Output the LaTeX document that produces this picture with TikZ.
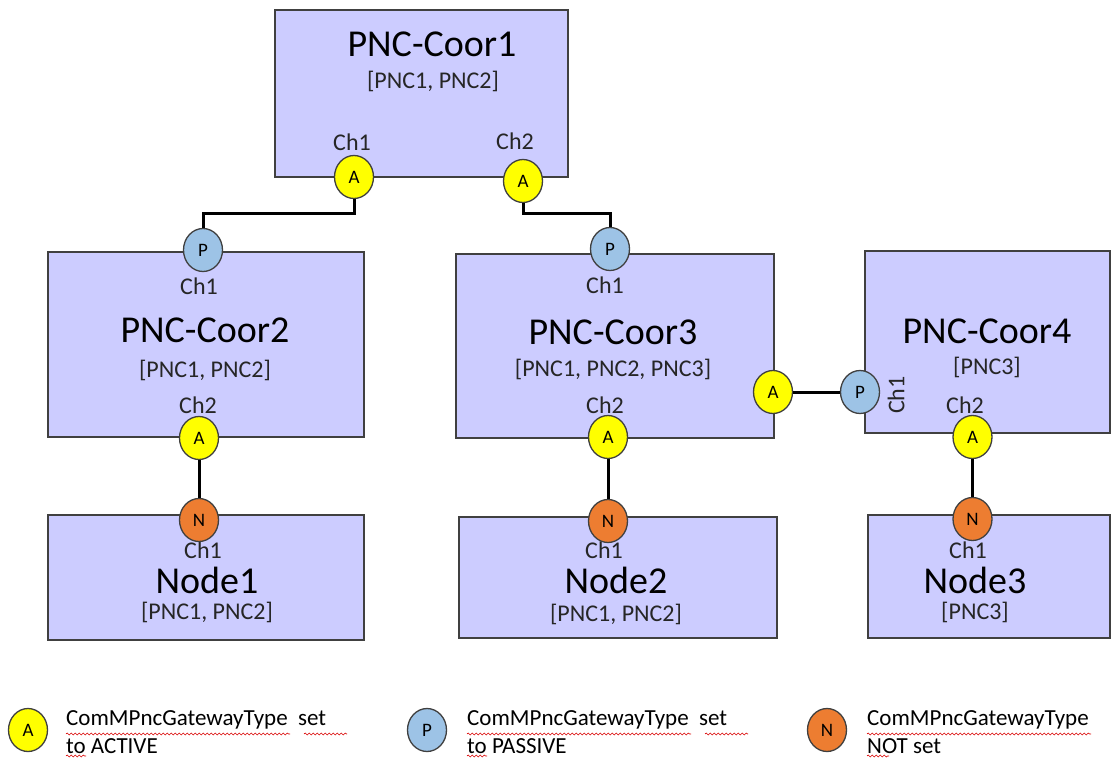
\documentclass[tikz,border=0pt]{standalone}
\usepackage{fontspec}
\setmainfont{Carlito}
\usetikzlibrary{shapes.geometric,decorations.pathmorphing}
\definecolor{boxfill}{RGB}{204,204,255}
\definecolor{boxline}{RGB}{64,64,64}
\definecolor{actA}{RGB}{255,255,0}
\definecolor{pasP}{RGB}{157,195,230}
\definecolor{notN}{RGB}{237,125,49}
\definecolor{subtext}{RGB}{38,38,38}
\begin{document}
\begin{tikzpicture}[x=1pt,y=-1pt,
  box/.style={draw=boxline, fill=boxfill, line width=1.8pt, rectangle, inner sep=0pt},
  port/.style={ellipse, draw=boxline, line width=1.3pt, minimum width=39pt, minimum height=43pt, inner sep=0pt, font=\fontsize{19}{19}\selectfont},
  portA/.style={port, fill=actA},
  portP/.style={port, fill=pasP},
  portN/.style={port, fill=notN},
  ttl/.style={font=\fontsize{38}{38}\selectfont, inner sep=0pt},
  sub/.style={font=\fontsize{24}{24}\selectfont, text=subtext, inner sep=0pt},
  link/.style={line width=3pt, black},
  legtxt/.style={font=\fontsize{23}{28}\selectfont, align=left, anchor=west, inner sep=0pt},
  squig/.style={draw=red!85!black, line width=0.6pt, decorate, decoration={snake, segment length=4pt, amplitude=1pt}}
]
\useasboundingbox (0,0) rectangle (1113,758);

% boxes
\node[box, minimum width=293, minimum height=167] (c1) at (421.5,93.5) {};
\node[box, minimum width=316, minimum height=185] (c2) at (206,344.5) {};
\node[box, minimum width=318, minimum height=184] (c3) at (615,346) {};
\node[box, minimum width=245, minimum height=182] (c4) at (987.5,342) {};
\node[box, minimum width=316, minimum height=125] (n1box) at (206,577.5) {};
\node[box, minimum width=318, minimum height=121] (n2box) at (618,577.5) {};
\node[box, minimum width=242, minimum height=123] (n3box) at (989,576.5) {};

% texts
\node[ttl] (t1) at (432,44) {PNC-Coor1};
\node[sub] (s1) at (433,81) {[PNC1, PNC2]};
\node[sub] (l11) at (352,142) {Ch1};
\node[sub] (l12) at (515,141) {Ch2};

\node[sub] (l21) at (199,286) {Ch1};
\node[ttl] (t2) at (205,330) {PNC-Coor2};
\node[sub] (s2) at (205,370) {[PNC1, PNC2]};
\node[sub] (l22) at (198,405) {Ch2};

\node[sub] (l31) at (605,285) {Ch1};
\node[ttl] (t3) at (613,332) {PNC-Coor3};
\node[sub] (s3) at (613,369) {[PNC1, PNC2, PNC3]};
\node[sub] (l32) at (605,405) {Ch2};

\node[ttl] (t4) at (987,331) {PNC-Coor4};
\node[sub] (s4) at (987,367) {[PNC3]};
\node[sub, rotate=90] (l41) at (896,395) {Ch1};
\node[sub] (l42) at (965,405) {Ch2};

\node[sub] (ln1) at (203,550) {Ch1};
\node[ttl] (tn1) at (207,580) {Node1};
\node[sub] (sn1) at (207,612) {[PNC1, PNC2]};

\node[sub] (ln2) at (604,550) {Ch1};
\node[ttl] (tn2) at (616,580) {Node2};
\node[sub] (sn2) at (616,614) {[PNC1, PNC2]};

\node[sub] (ln3) at (968,550) {Ch1};
\node[ttl] (tn3) at (975,580) {Node3};
\node[sub] (sn3) at (975,612) {[PNC3]};

% ports
\node[portA] (a11) at (354,177) {A};
\node[portA] (a12) at (523,181) {A};
\node[portP] (p21) at (203,250) {P};
\node[portA] (a22) at (199,438) {A};
\node[portN] (n1) at (199,520) {N};
\node[portP] (p31) at (610,249) {P};
\node[portA] (a32) at (608,437) {A};
\node[portA] (a33) at (773,392) {A};
\node[portP] (p41) at (860,392) {P};
\node[portA] (a42) at (972.5,437) {A};
\node[portN] (n2) at (608,521) {N};
\node[portN] (n3) at (972.5,519) {N};

% connectors
\draw[link] (a11.south) -- ++(0,14) -| (p21.north);
\draw[link] (a12.south) -- ++(0,10) -| (p31.north);
\draw[link] (a22.south) -- (n1.north);
\draw[link] (a32.south) -- (n2.north);
\draw[link] (a42.south) -- (n3.north);
\draw[link] (a33.east) -- (p41.west);

% legend
\node[portA] (la) at (28,730) {A};
\node[portP] (lp) at (427,730) {P};
\node[portN] (lnn) at (827,730) {N};
\node[legtxt] (ta) at (66,732) {ComMPncGatewayType\ \ set\\to ACTIVE};
\node[legtxt] (tp) at (467,732) {ComMPncGatewayType\ \ set\\to PASSIVE};
\node[legtxt] (tn) at (867,732) {ComMPncGatewayType\\NOT set};

\draw[squig] (66,734) -- (290,734);
\draw[squig] (304,734) -- (347,734);
\draw[squig] (467,734) -- (691,734);
\draw[squig] (705,734) -- (748,734);
\draw[squig] (867,734) -- (1091,734);
\draw[squig] (66,756) -- (86,756);
\draw[squig] (467,756) -- (487,756);
\draw[squig] (867,756) -- (889,756);
\end{tikzpicture}
\end{document}
